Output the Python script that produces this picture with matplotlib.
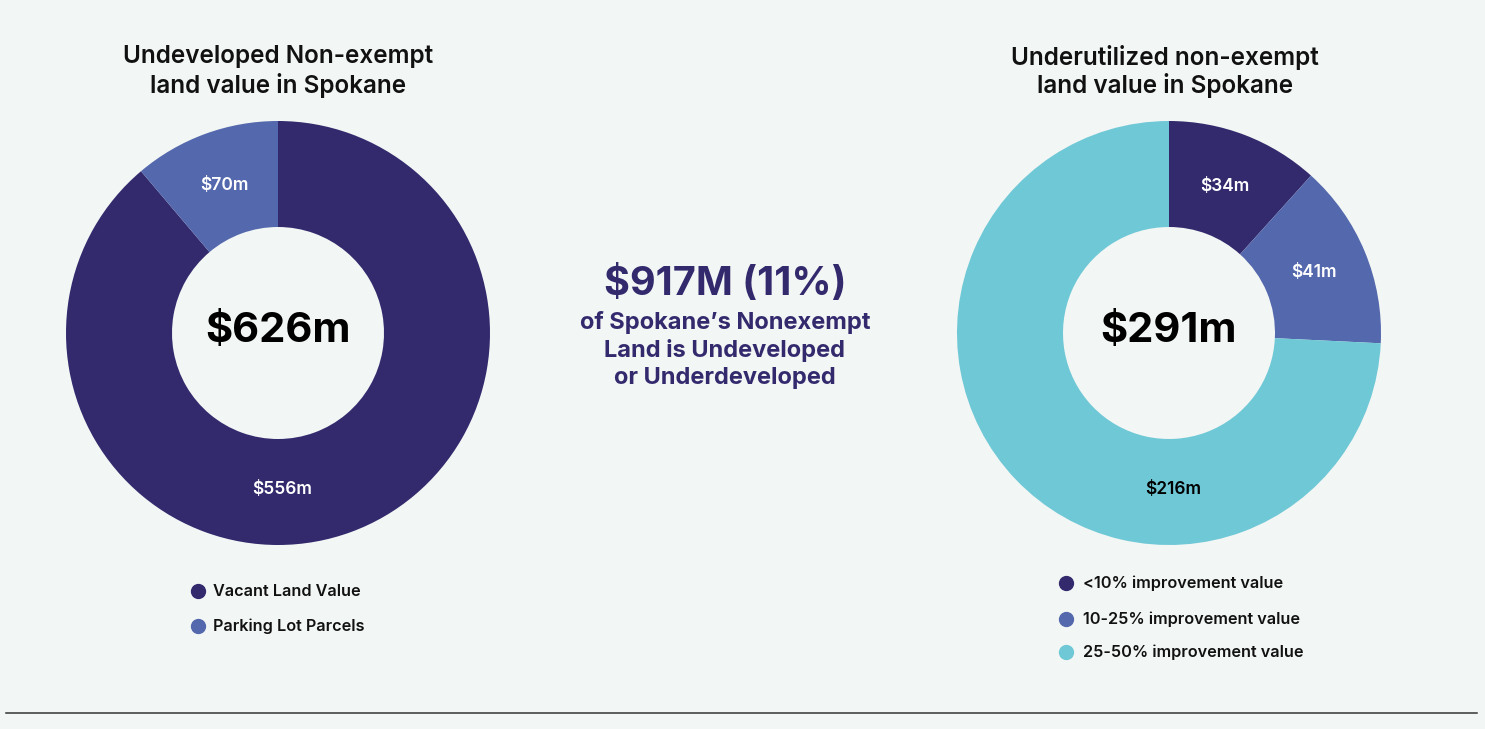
import matplotlib

matplotlib.use("Agg")
import matplotlib.pyplot as plt
import numpy as np
from matplotlib.lines import Line2D

# data
left_labels = ["Vacant Land Value", "Parking Lot Parcels"]
left_values = [556, 70]
left_total = "$626m"

right_labels = ["<10% improvement value", "10-25% improvement value", "25-50% improvement value"]
right_values = [34, 41, 216]
right_total = "$291m"

headline = "$917M (11%)"
subline = ["of Spokane\u2019s Nonexempt", "Land is Undeveloped", "or Underdeveloped"]

DARK = "#332A6E"
MID = "#5468AD"
CYAN = "#6FC8D6"
BG = "#F2F6F4"
W, H = 1485, 729

plt.rcParams["font.family"] = ["Inter", "DejaVu Sans"]

fig = plt.figure(figsize=(W / 100, H / 100), dpi=100)
fig.patch.set_facecolor(BG)


def fx(x):
    return x / W


def fy(y):
    return 1 - y / H


def donut(cx, cy, r, values, colors, label_colors, total):
    ax = fig.add_axes([fx(cx - r), fy(cy + r), 2 * r / W, 2 * r / H])
    ax.set_facecolor("none")
    wedges, texts = ax.pie(
        values, colors=colors, startangle=90, counterclock=False,
        radius=1, wedgeprops=dict(width=0.5, linewidth=0),
        labels=[f"${v}m" for v in values], labeldistance=0.74,
        textprops=dict(fontsize=12.5, fontweight="semibold"),
    )
    share = np.array(values) / sum(values)
    for t, c, s in zip(texts, label_colors, share):
        t.set_color(c)
        t.set_ha("center")
        t.set_va("center")
        # the big slice keeps its label at the bottom of the ring
        if s > 0.5:
            t.set_position((0.02, -0.74))
    ax.text(0, 0.01, total, ha="center", va="center", fontsize=30,
            fontweight="bold", color="black")
    ax.set_xlim(-1, 1)
    ax.set_ylim(-1, 1)
    ax.set_aspect("equal")
    ax.axis("off")
    return ax


donut(278, 333, 212, left_values, [DARK, MID], ["white", "white"], left_total)
donut(1169, 333, 212, right_values, [DARK, MID, CYAN],
      ["white", "white", "black"], right_total)

# titles
for cx, lines in [(278, ["Undeveloped Non-exempt", "land value in Spokane"]),
                  (1165, ["Underutilized non-exempt", "land value in Spokane"])]:
    for i, s in enumerate(lines):
        fig.text(fx(cx), fy(57 + 28 * i), s, ha="center", va="center",
                 fontsize=17.5, fontweight="semibold", color="#111111")

# center callout
fig.text(fx(725), fy(284), headline, ha="center", va="center",
         fontsize=28.5, fontweight="bold", color=DARK)
for i, s in enumerate(subline):
    fig.text(fx(725), fy(323 + 27.5 * i), s, ha="center", va="center",
             fontsize=17, fontweight="bold", color=DARK)

# legends
for i, (lab, col) in enumerate(zip(left_labels, [DARK, MID])):
    y = [591, 626][i]
    fig.add_artist(Line2D([fx(198)], [fy(y)], marker="o", markersize=10,
                          color=col, linestyle="none", transform=fig.transFigure))
    fig.text(fx(213), fy(y), lab, ha="left", va="center", fontsize=11.7,
             fontweight="semibold", color="#111111")

for i, (lab, col) in enumerate(zip(right_labels, [DARK, MID, CYAN])):
    y = [583, 619, 652][i]
    fig.add_artist(Line2D([fx(1066)], [fy(y)], marker="o", markersize=10,
                          color=col, linestyle="none", transform=fig.transFigure))
    fig.text(fx(1083), fy(y), lab, ha="left", va="center", fontsize=11.7,
             fontweight="semibold", color="#111111")

# bottom rule
fig.add_artist(Line2D([fx(6), fx(1477)], [fy(713), fy(713)], color="#333333",
                      linewidth=1.1, transform=fig.transFigure))

fig.savefig("out.png", dpi=100, facecolor=BG)
